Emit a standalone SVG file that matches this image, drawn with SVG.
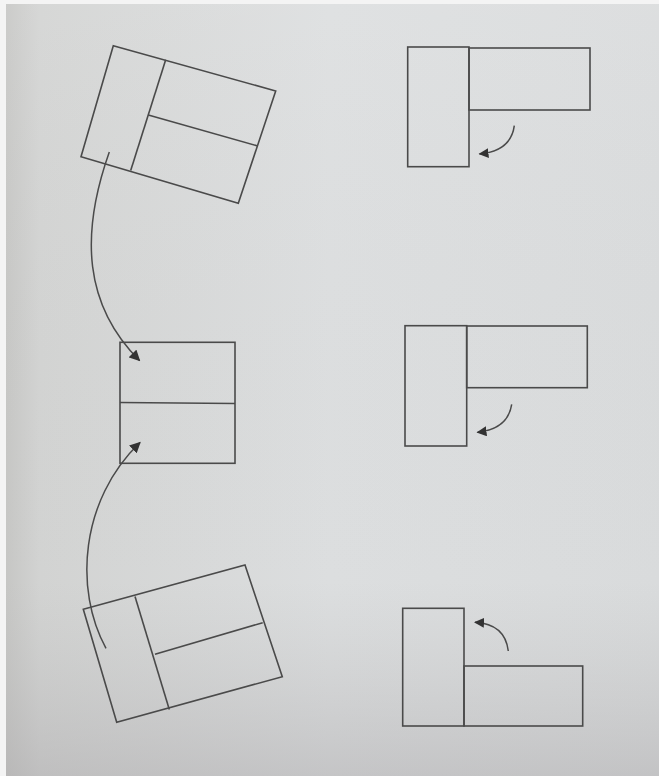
<svg xmlns="http://www.w3.org/2000/svg" width="659" height="776" viewBox="0 0 659 776">
<defs>
<linearGradient id="bgx" x1="0" y1="0" x2="1" y2="0">
<stop offset="0" stop-color="#c4c4c2"/>
<stop offset="0.06" stop-color="#d2d3d2"/>
<stop offset="0.5" stop-color="#dcdedf"/>
<stop offset="1" stop-color="#d9dbdc"/>
</linearGradient>
<linearGradient id="bgy" x1="0" y1="0" x2="0" y2="1">
<stop offset="0" stop-color="#ffffff" stop-opacity="0.1"/>
<stop offset="0.75" stop-color="#b8b8b8" stop-opacity="0"/>
<stop offset="1" stop-color="#a8a6a8" stop-opacity="0.45"/>
</linearGradient>
<marker id="ah" viewBox="0 0 10 10" refX="9" refY="5" markerWidth="11" markerHeight="11" markerUnits="userSpaceOnUse" orient="auto">
<path d="M0,0 L10,5 L0,10 Z" fill="#333"/>
</marker>
<marker id="ahs" viewBox="0 0 10 10" refX="9" refY="5" markerWidth="10" markerHeight="10" markerUnits="userSpaceOnUse" orient="auto">
<path d="M0,0 L10,5 L0,10 Z" fill="#333"/>
</marker>
</defs>
<style>
.ln{fill:none;stroke:#4a4a4a;stroke-width:1.6;stroke-linejoin:miter}
.cn{fill:none;stroke:#4a4a4a;stroke-width:1.5}
</style>
<rect x="0" y="0" width="659" height="776" fill="url(#bgx)"/>
<rect x="0" y="0" width="659" height="776" fill="url(#bgy)"/>
<rect x="0" y="0" width="6" height="776" fill="#f4f4f4"/>
<rect x="0" y="0" width="659" height="4" fill="#f4f4f4"/>

<g id="rot-top">
<polygon class="ln" points="113.3,45.7 275.7,91 238.3,203.3 81,156.7"/>
<line class="ln" x1="165.7" y1="59.8" x2="130.7" y2="170.5"/>
<line class="ln" x1="148.3" y1="115" x2="257.7" y2="146"/>
</g>

<g id="mid-left">
<rect class="ln" x="120" y="342.3" width="115" height="121"/>
<line class="ln" x1="120" y1="402.5" x2="235" y2="403.5"/>
</g>

<g id="rot-bottom">
<polygon class="ln" points="83.3,609.3 245,565 282.3,676.7 116.7,722.3"/>
<line class="ln" x1="135" y1="596.5" x2="169.3" y2="709.5"/>
<line class="ln" x1="155" y1="654.3" x2="262.7" y2="622.7"/>
</g>

<g id="L-top">
<rect class="ln" x="407.7" y="47" width="61.3" height="119.7"/>
<rect class="ln" x="469" y="48" width="121" height="62"/>
</g>

<g id="L-mid">
<rect class="ln" x="405" y="325.7" width="61.7" height="120.3"/>
<rect class="ln" x="466.7" y="326" width="120.6" height="61.7"/>
</g>

<g id="L-bottom">
<rect class="ln" x="402.7" y="608.3" width="61.3" height="117.7"/>
<rect class="ln" x="464" y="666" width="118.7" height="60"/>
</g>

<g id="connectors">
<path class="cn" d="M109.3,152 C80,235 84,305 139.5,360.5" marker-end="url(#ah)"/>
<path class="cn" d="M106,648.3 C74,590 80,500 140,442.5" marker-end="url(#ah)"/>
<path class="cn" d="M514.3,125.7 Q511,151 479.5,154" marker-end="url(#ahs)"/>
<path class="cn" d="M511.7,404.3 Q508,429 477.5,432.3" marker-end="url(#ahs)"/>
<path class="cn" d="M508.3,651 Q505,624 475,622.3" marker-end="url(#ahs)"/>
</g>
</svg>
